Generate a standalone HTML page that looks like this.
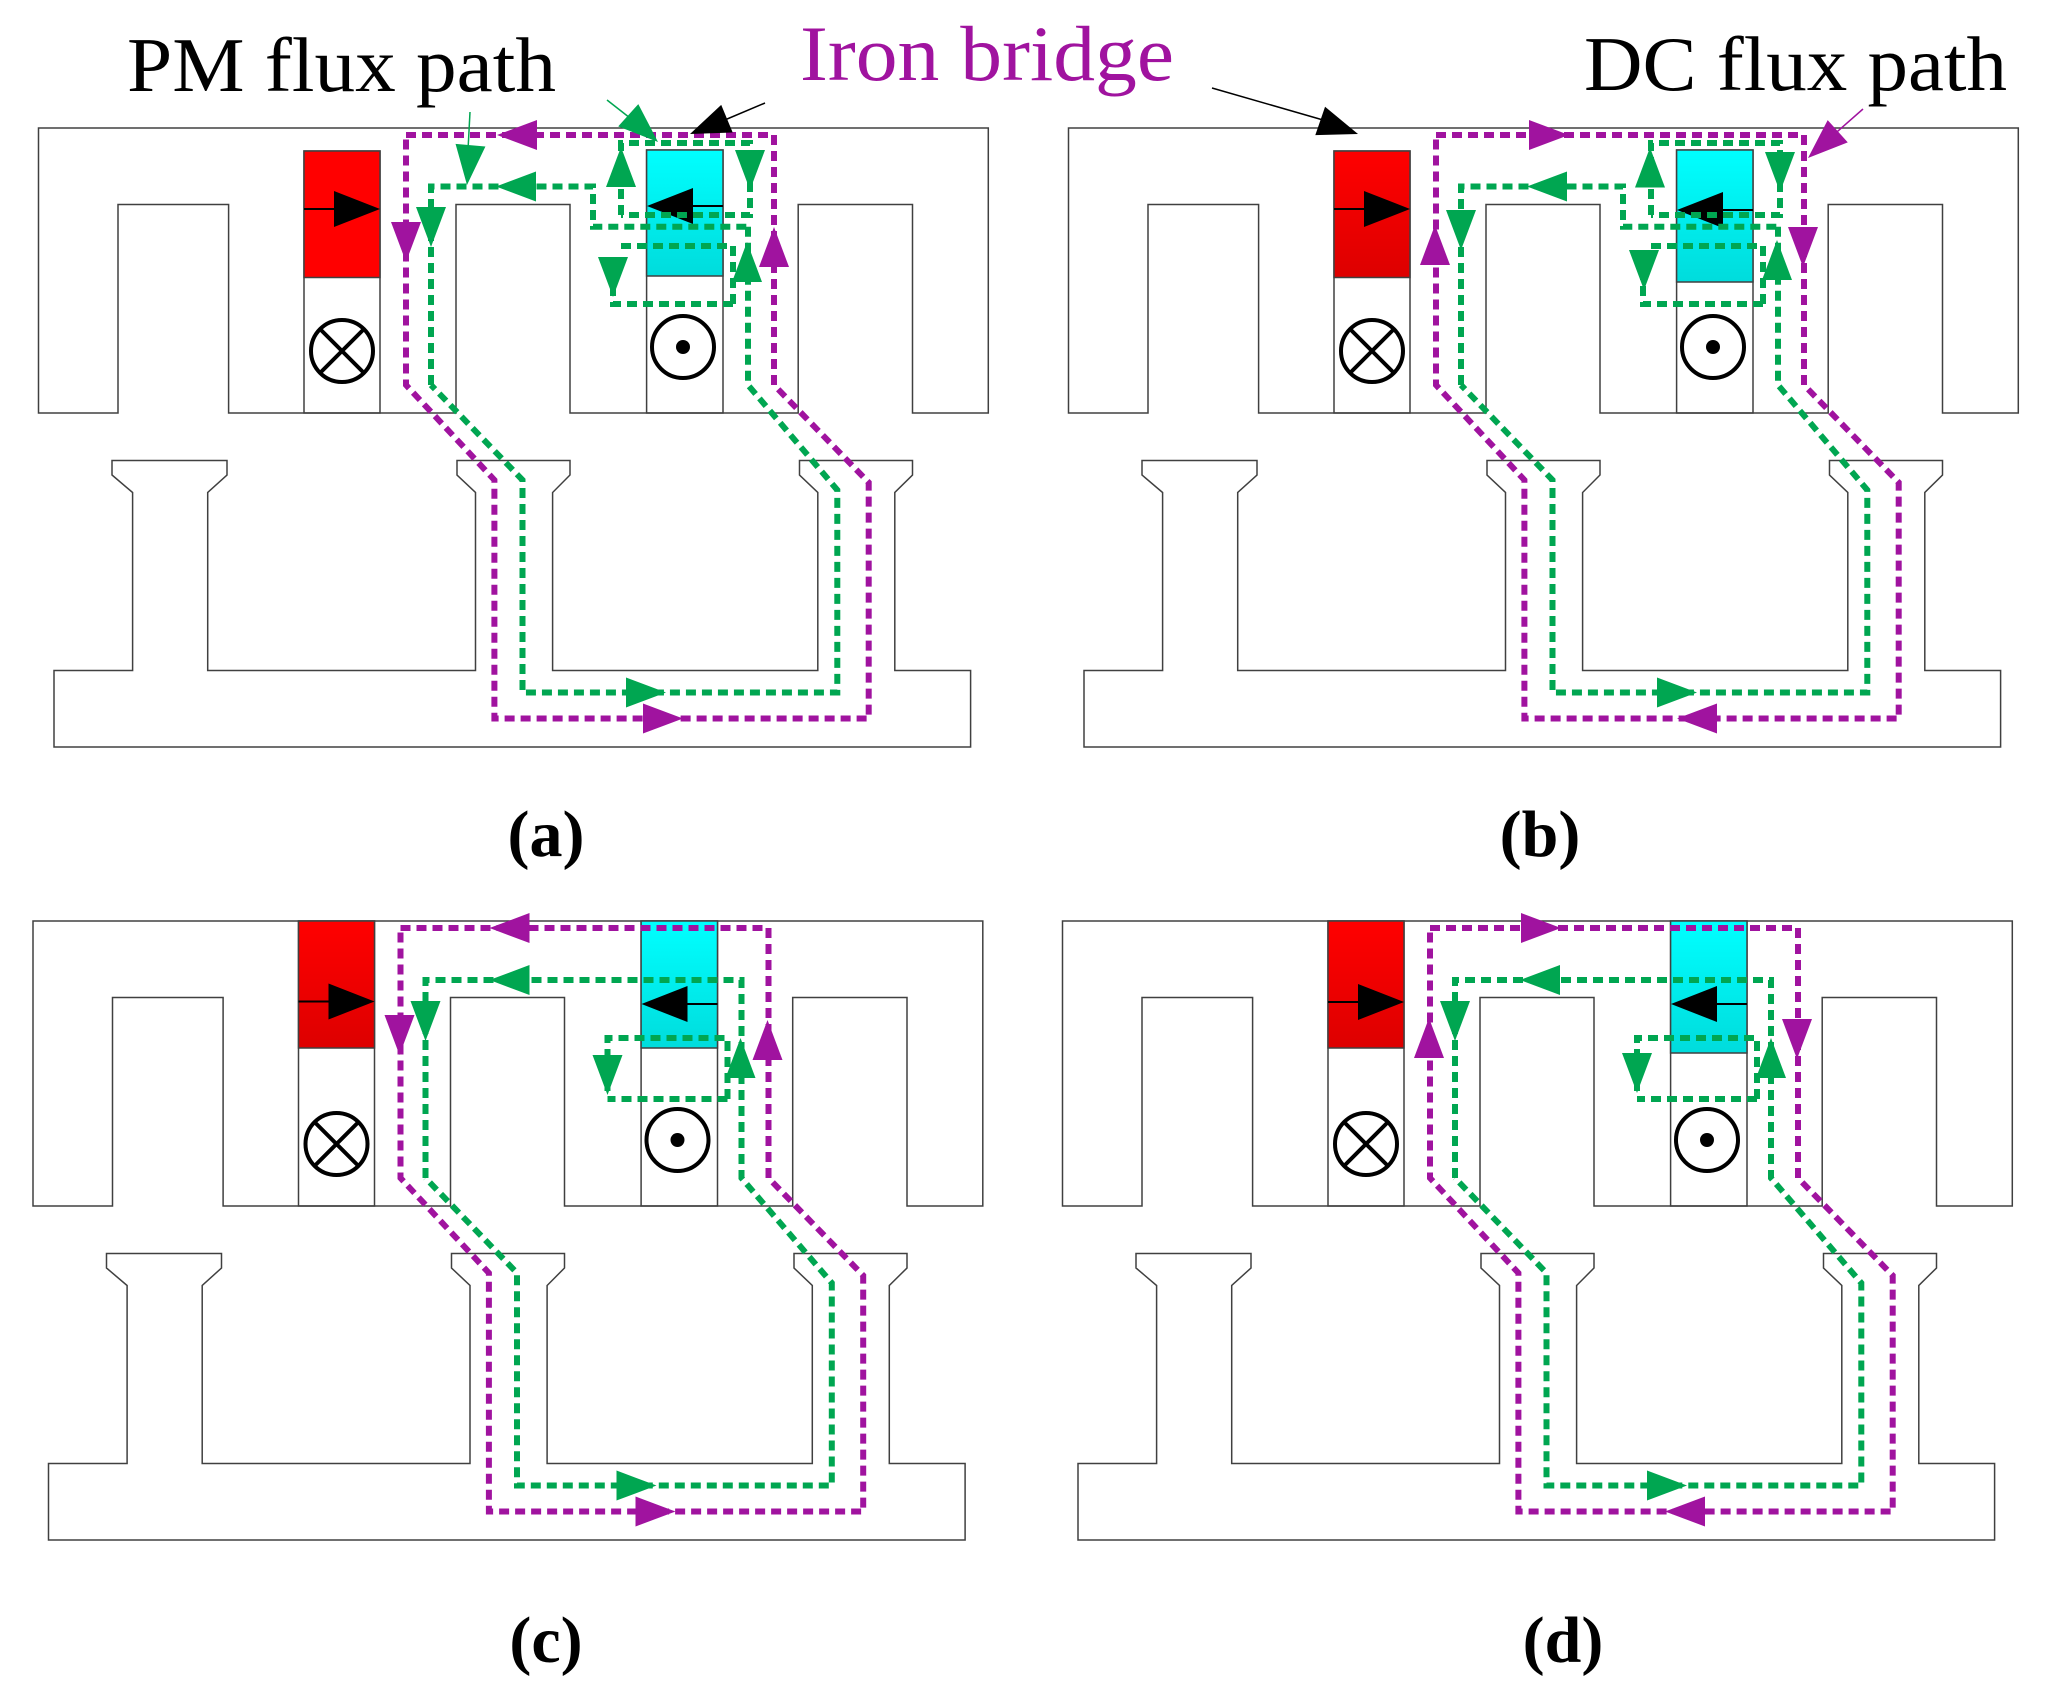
<!DOCTYPE html>
<html><head><meta charset="utf-8"><style>
html,body{margin:0;padding:0;background:#fff;}
svg{display:block;}
</style></head><body>
<svg width="2047" height="1694" viewBox="0 0 2047 1694" xmlns="http://www.w3.org/2000/svg">
<defs>
<linearGradient id="rg" x1="0" y1="0" x2="0" y2="1"><stop offset="0" stop-color="#ff0000"/><stop offset="1" stop-color="#dd0000"/></linearGradient>
<linearGradient id="cg" x1="0" y1="0" x2="0" y2="1"><stop offset="0" stop-color="#00ffff"/><stop offset="1" stop-color="#00dcdc"/></linearGradient>
<path id="tri" d="M0,0 L-40,-15 L-40,15 Z"/>
<path id="mtri" d="M0,0 L-46,-18 L-46,18 Z"/>
<g id="body" fill="none" stroke="#404040" stroke-width="1.5">
<path d="M38.5,128 H988.3 V413 H912.5 V204.5 H798.2 V413 H570 V204.5 H456 V413 H228.6 V204.5 H118 V413 H38.5 Z" fill="#fff"/>
<path d="M54,670.5 H132.6 V492.5 L112,475 V460.5 H227 V475 L207.7,492.5 V670.5 H475.5 V492.5 L457,475 V460.5 H570 V475 L552.6,492.5 V670.5 H817.8 V492.5 L799.5,475 V460.5 H912.5 V475 L894.8,492.5 V670.5 H970.6 V747 H54 Z" fill="#fff"/>
<circle cx="342" cy="351" r="31" stroke="#000" stroke-width="4"/>
<path d="M320,329 L364,373 M364,329 L320,373" stroke="#000" stroke-width="4"/>
<circle cx="683" cy="347" r="31" stroke="#000" stroke-width="4"/>
<circle cx="683" cy="347" r="7" fill="#000" stroke="none"/>
</g>
<g id="pPath" fill="none" stroke="#a0139f" stroke-width="6" stroke-dasharray="10,6">
<path d="M406,135 H774 V385 L868.7,482.5 V718.5 H494.4 V480 L406,385 Z"/>
</g>
<g id="gAB" fill="none" stroke="#00a651" stroke-width="6" stroke-dasharray="10,6">
<path d="M431,385 V186.5 H593 V226.7 H748"/>
<path d="M621,215 V143 H750 V215 H621"/>
<path d="M748,226.7 V385 L837.3,490 V692.5 H522.5 V480 L431,385"/>
<path d="M733,304 V246 H617 M733,304 H613 V260"/>
</g>
<g id="gCD" fill="none" stroke="#00a651" stroke-width="6" stroke-dasharray="10,6">
<path d="M431,385 V187 H747 V385 L837.3,490 V692.5 H522.5 V480 L431,385"/>
<path d="M733,306 V245 H613 V300 M733,306 H613"/>
</g>
</defs>

<text x="127" y="91" font-family="Liberation Serif, serif" font-size="77" fill="#000" textLength="429" lengthAdjust="spacingAndGlyphs">PM flux path</text>
<text x="800" y="80" font-family="Liberation Serif, serif" font-size="78" fill="#a0139f" textLength="374" lengthAdjust="spacingAndGlyphs">Iron bridge</text>
<text x="1584" y="90" font-family="Liberation Serif, serif" font-size="77" fill="#000" textLength="423" lengthAdjust="spacingAndGlyphs">DC flux path</text>

<g font-family="Liberation Serif, serif" font-size="66" font-weight="bold" text-anchor="middle" fill="#000">
<text x="546" y="856">(a)</text>
<text x="1540" y="856">(b)</text>
<text x="546" y="1662">(c)</text>
<text x="1563" y="1662">(d)</text>
</g>

<!-- Panel a -->
<g>
<use href="#body"/>
<rect x="304" y="151" width="76" height="262" fill="none" stroke="#404040" stroke-width="1.5"/>
<rect x="646.6" y="150" width="76.4" height="263" fill="none" stroke="#404040" stroke-width="1.5"/>
<rect x="304" y="151" width="76" height="126.5" fill="#ff0000" stroke="#404040" stroke-width="1.5"/>
<rect x="646.6" y="150" width="76.4" height="126" fill="url(#cg)" stroke="#404040" stroke-width="1.5"/>
<line x1="304" y1="209" x2="340" y2="209" stroke="#000" stroke-width="2"/>
<use href="#mtri" transform="translate(380,209)" fill="#000"/>
<line x1="690" y1="206" x2="723" y2="206" stroke="#000" stroke-width="2"/>
<use href="#mtri" transform="translate(647,206) rotate(180)" fill="#000"/>
<use href="#pPath"/>
<use href="#gAB"/>
<g fill="#a0139f">
<use href="#tri" transform="translate(497,135) rotate(180)"/>
<use href="#tri" transform="translate(406,262) rotate(90)"/>
<use href="#tri" transform="translate(774,227) rotate(-90)"/>
<use href="#tri" transform="translate(683,718.5)"/>
</g>
<g fill="#00a651">
<use href="#tri" transform="translate(431,247) rotate(90)"/>
<use href="#tri" transform="translate(467,185) rotate(95)"/>
<use href="#tri" transform="translate(496,186.5) rotate(180)"/>
<use href="#tri" transform="translate(658,142) rotate(42)"/>
<use href="#tri" transform="translate(621,147) rotate(-90)"/>
<use href="#tri" transform="translate(750,190) rotate(90)"/>
<use href="#tri" transform="translate(613,297) rotate(90)"/>
<use href="#tri" transform="translate(747,242) rotate(-90)"/>
<use href="#tri" transform="translate(666,692.5)"/>
</g>
<line x1="470" y1="112" x2="468" y2="150" stroke="#00a651" stroke-width="1.5"/>
<line x1="607" y1="100" x2="630" y2="118" stroke="#00a651" stroke-width="1.5"/>
<line x1="765" y1="103" x2="720" y2="122" stroke="#000" stroke-width="1.5"/>
<use href="#tri" transform="translate(690,134) rotate(157.5)" fill="#000"/>
</g>

<!-- Panel b -->
<g transform="translate(1030,0)">
<use href="#body"/>
<rect x="304" y="151" width="76" height="262" fill="none" stroke="#404040" stroke-width="1.5"/>
<rect x="646.6" y="150" width="76.4" height="263" fill="none" stroke="#404040" stroke-width="1.5"/>
<rect x="304" y="151" width="76" height="126.5" fill="url(#rg)" stroke="#404040" stroke-width="1.5"/>
<rect x="646.6" y="150" width="76.4" height="132" fill="url(#cg)" stroke="#404040" stroke-width="1.5"/>
<line x1="304" y1="209" x2="340" y2="209" stroke="#000" stroke-width="2"/>
<use href="#mtri" transform="translate(380,209)" fill="#000"/>
<line x1="690" y1="210" x2="723" y2="210" stroke="#000" stroke-width="2"/>
<use href="#mtri" transform="translate(647,210) rotate(180)" fill="#000"/>
<use href="#pPath"/>
<use href="#gAB"/>
<g fill="#a0139f">
<use href="#tri" transform="translate(539,135)"/>
<use href="#tri" transform="translate(405,225) rotate(-90)"/>
<use href="#tri" transform="translate(773,267) rotate(90)"/>
<use href="#tri" transform="translate(647,718.5) rotate(180)"/>
<use href="#tri" transform="translate(778,158) rotate(138)"/>
</g>
<line x1="833" y1="109" x2="800" y2="138" stroke="#a0139f" stroke-width="1.5"/>
<g fill="#00a651">
<use href="#tri" transform="translate(497,186.5) rotate(180)"/>
<use href="#tri" transform="translate(431,250) rotate(90)"/>
<use href="#tri" transform="translate(620,147.5) rotate(-90)"/>
<use href="#tri" transform="translate(750,192) rotate(90)"/>
<use href="#tri" transform="translate(614,290) rotate(90)"/>
<use href="#tri" transform="translate(747,240) rotate(-90)"/>
<use href="#tri" transform="translate(667,692.5)"/>
</g>
</g>
<line x1="1212" y1="88" x2="1330" y2="122" stroke="#000" stroke-width="1.5"/>
<use href="#tri" transform="translate(1358,134) rotate(19)" fill="#000"/>

<!-- Panel c -->
<g transform="translate(-5.5,793)">
<use href="#body"/>
<rect x="304" y="128" width="76" height="285" fill="none" stroke="#404040" stroke-width="1.5"/>
<rect x="646.6" y="128" width="76.4" height="285" fill="none" stroke="#404040" stroke-width="1.5"/>
<rect x="304" y="128" width="76" height="127" fill="url(#rg)" stroke="#404040" stroke-width="1.5"/>
<rect x="646.6" y="128" width="76.4" height="127" fill="url(#cg)" stroke="#404040" stroke-width="1.5"/>
<line x1="304" y1="208.5" x2="340" y2="208.5" stroke="#000" stroke-width="2"/>
<use href="#mtri" transform="translate(380,208.5)" fill="#000"/>
<line x1="690" y1="211" x2="723" y2="211" stroke="#000" stroke-width="2"/>
<use href="#mtri" transform="translate(647,211) rotate(180)" fill="#000"/>
<use href="#pPath"/>
<use href="#gCD"/>
<g fill="#a0139f">
<use href="#tri" transform="translate(495,135) rotate(180)"/>
<use href="#tri" transform="translate(405,262) rotate(90)"/>
<use href="#tri" transform="translate(773,227) rotate(-90)"/>
<use href="#tri" transform="translate(681,718.5)"/>
</g>
<g fill="#00a651">
<use href="#tri" transform="translate(495,187) rotate(180)"/>
<use href="#tri" transform="translate(431,248) rotate(90)"/>
<use href="#tri" transform="translate(613,302) rotate(90)"/>
<use href="#tri" transform="translate(746,245) rotate(-90)"/>
<use href="#tri" transform="translate(662,692.5)"/>
</g>
</g>

<!-- Panel d -->
<g transform="translate(1024,793)">
<use href="#body"/>
<rect x="304" y="128" width="76" height="285" fill="none" stroke="#404040" stroke-width="1.5"/>
<rect x="646.6" y="128" width="76.4" height="285" fill="none" stroke="#404040" stroke-width="1.5"/>
<rect x="304" y="128" width="76" height="127" fill="url(#rg)" stroke="#404040" stroke-width="1.5"/>
<rect x="646.6" y="128" width="76.4" height="132" fill="url(#cg)" stroke="#404040" stroke-width="1.5"/>
<line x1="304" y1="209" x2="340" y2="209" stroke="#000" stroke-width="2"/>
<use href="#mtri" transform="translate(380,209)" fill="#000"/>
<line x1="690" y1="211" x2="723" y2="211" stroke="#000" stroke-width="2"/>
<use href="#mtri" transform="translate(647,211) rotate(180)" fill="#000"/>
<use href="#pPath"/>
<use href="#gCD"/>
<g fill="#a0139f">
<use href="#tri" transform="translate(537,135)"/>
<use href="#tri" transform="translate(405,225) rotate(-90)"/>
<use href="#tri" transform="translate(773,266) rotate(90)"/>
<use href="#tri" transform="translate(641,718.5) rotate(180)"/>
</g>
<g fill="#00a651">
<use href="#tri" transform="translate(496,187) rotate(180)"/>
<use href="#tri" transform="translate(431,248) rotate(90)"/>
<use href="#tri" transform="translate(613,300) rotate(90)"/>
<use href="#tri" transform="translate(747,245) rotate(-90)"/>
<use href="#tri" transform="translate(663,692.5)"/>
</g>
</g>
</svg>
</body></html>
